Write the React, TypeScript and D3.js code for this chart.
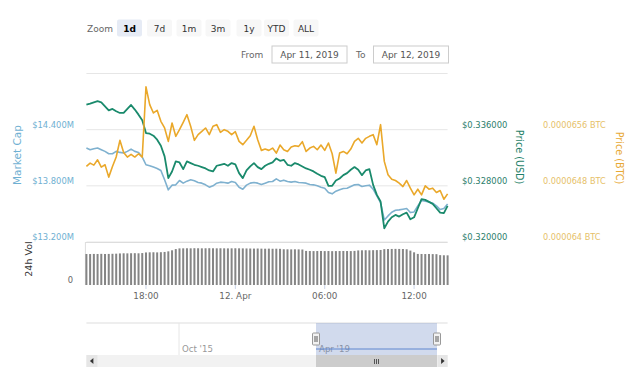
import React from 'react';
import * as d3 from 'd3';

// ---------- data (15-minute samples, Apr 11 2019 14:00 -> Apr 12 2019 14:15) ----------
const startTime = new Date(2019, 3, 11, 14, 0);
const endTime = new Date(2019, 3, 12, 14, 15);
const stepMinutes = 15;

const marketCapM = [
  14.2036, 14.1857, 14.1964, 14.2036, 14.1857, 14.1679, 14.1429, 14.1429, 14.1679, 14.1571,
  14.15, 14.1679, 14.1929, 14.1679, 14.1571, 14.1071, 14.025, 14.0143, 14.0, 13.9857,
  13.9643, 13.8643, 13.7571, 13.8071, 13.8107, 13.8571, 13.8286, 13.85, 13.8643, 13.8536,
  13.8357, 13.8286, 13.8107, 13.7857, 13.8, 13.8286, 13.8393, 13.8357, 13.8286, 13.8464,
  13.8357, 13.7857, 13.7643, 13.8071, 13.8286, 13.8357, 13.8286, 13.8143, 13.8286, 13.8429,
  13.8464, 13.875, 13.85, 13.8607, 13.8464, 13.8393, 13.8464, 13.8357, 13.8321, 13.8286,
  13.8143, 13.8107, 13.8, 13.7857, 13.775, 13.7286, 13.7143, 13.7429, 13.7571, 13.7714,
  13.775, 13.7929, 13.8107, 13.8143, 13.7929, 13.8, 13.8071, 13.7643, 13.6929, 13.6214,
  13.4357, 13.4786, 13.5179, 13.5393, 13.5429, 13.55, 13.5571, 13.5143, 13.5214, 13.5857,
  13.6429, 13.6357, 13.6286, 13.6143, 13.5857, 13.5464, 13.5571, 13.6071,
];

const priceUsd = [
  0.33957, 0.33971, 0.3399, 0.34005, 0.3399, 0.33933, 0.33876, 0.33895, 0.33862, 0.33838,
  0.33838, 0.33895, 0.33952, 0.33886, 0.33814, 0.33733, 0.33552, 0.33543, 0.33514, 0.33457,
  0.33371, 0.33219, 0.3291, 0.33005, 0.33148, 0.33133, 0.33038, 0.33148, 0.33124, 0.331,
  0.33086, 0.33067, 0.33048, 0.33019, 0.33005, 0.33086, 0.331, 0.33114, 0.33086, 0.33124,
  0.33105, 0.32981, 0.3291, 0.33019, 0.33076, 0.33124, 0.33067, 0.33038, 0.33086, 0.33114,
  0.33133, 0.3319, 0.33157, 0.33171, 0.331, 0.33086, 0.33124, 0.33105, 0.33076, 0.33048,
  0.33029, 0.33005, 0.32971, 0.32943, 0.32924, 0.328, 0.328, 0.32876, 0.32905, 0.32952,
  0.32981, 0.33029, 0.33067, 0.33029, 0.32952, 0.33019, 0.33038, 0.32814, 0.32671, 0.32576,
  0.32195, 0.3229, 0.32352, 0.32386, 0.32362, 0.32395, 0.32419, 0.32324, 0.32352, 0.32481,
  0.3261, 0.326, 0.32571, 0.32543, 0.32481, 0.32419, 0.3241, 0.32514,
];

const priceBtc = [
  650.76e-7, 651.24e-7, 650.95e-7, 651.71e-7, 650.67e-7, 651.0e-7, 649.24e-7, 650.76e-7, 652.1e-7, 654.48e-7,
  652.76e-7, 652.1e-7, 652.48e-7, 652.1e-7, 652.57e-7, 652.1e-7, 662.1e-7, 659.57e-7, 658.38e-7, 658.76e-7,
  657.19e-7, 656.24e-7, 654.33e-7, 656.95e-7, 655.05e-7, 656.0e-7, 657.05e-7, 658.14e-7, 656.48e-7, 654.48e-7,
  655.29e-7, 655.76e-7, 656.24e-7, 655.29e-7, 656.48e-7, 656.71e-7, 655.62e-7, 656.0e-7, 655.76e-7, 655.29e-7,
  655.71e-7, 654.33e-7, 653.86e-7, 654.48e-7, 655.14e-7, 656.48e-7, 654.57e-7, 653.05e-7, 653.24e-7, 653.05e-7,
  653.38e-7, 652.67e-7, 653.81e-7, 653.14e-7, 652.9e-7, 653.52e-7, 653.71e-7, 653.62e-7, 654.29e-7, 652.9e-7,
  653.38e-7, 653.62e-7, 653.14e-7, 653.81e-7, 653.05e-7, 654.1e-7, 652.57e-7, 649.81e-7, 652.67e-7, 652.9e-7,
  652.57e-7, 653.24e-7, 654.33e-7, 654.76e-7, 654.1e-7, 654.76e-7, 655.05e-7, 655.29e-7, 653.86e-7, 656.71e-7,
  651.48e-7, 649.57e-7, 648.95e-7, 648.76e-7, 648.38e-7, 647.9e-7, 648.76e-7, 647.67e-7, 646.71e-7, 647.52e-7,
  646.71e-7, 648.0e-7, 647.52e-7, 647.67e-7, 647.05e-7, 647.33e-7, 646.1e-7, 646.86e-7,
];

const volume24hM = [
  505, 504, 506, 505, 507, 505, 506, 508, 510,
  514, 516, 515, 517, 518, 516, 520,
  530, 532, 533, 531, 534, 538,
  548, 565, 585,
  596, 597, 598, 597, 599, 598, 597, 598, 599, 598, 597, 598, 597, 596, 597, 598, 597, 596, 595,
  594, 593, 594, 592, 591, 592, 590, 591, 589,
  582, 581, 580, 581, 580, 578,
  555, 553, 552, 553, 554, 552, 553, 551, 552, 553, 554, 553, 552, 555,
  563, 565, 566, 565, 567, 568, 570,
  584, 586, 587, 588, 587, 586, 582,
  560, 532,
  506, 505, 504, 505, 503, 502,
  486, 484, 483,
];

const marketCapTicks = [13.2, 13.8, 14.4];
const usdTicks = [0.32, 0.328, 0.336];
const btcTicks = [0.000064, 0.0000648, 0.0000656];
const marketCapLabels = ['$13.200M', '$13.800M', '$14.400M'];
const usdLabels = ['$0.320000', '$0.328000', '$0.336000'];
const btcLabels = ['0.000064 BTC', '0.0000648 BTC', '0.0000656 BTC'];

const xTickTimes = [
  new Date(2019, 3, 11, 18, 0),
  new Date(2019, 3, 12, 0, 0),
  new Date(2019, 3, 12, 6, 0),
  new Date(2019, 3, 12, 12, 0),
];
const xTickLabels = ['18:00', '12. Apr', '06:00', '12:00'];

const zoomButtons = ['1d', '7d', '1m', '3m', '1y', 'YTD', 'ALL'];
const fromDate = 'Apr 11, 2019';
const toDate = 'Apr 12, 2019';

const navTickTimes = [new Date(2015, 9, 1), new Date(2019, 3, 1)];
const navTickLabels = ["Oct '15", "Apr '19"];

// ---------- colours ----------
const C_MCAP = '#7fb1cf';
const C_USD = '#1a8a6c';
const C_BTC = '#eaa82a';
const FONT = 'DejaVu Sans, sans-serif';

export default function App() {
  const W = 640;
  const H = 380;
  const left = 86.4;
  const right = 447.6;
  const priceTop = 73.5;
  const priceBottom = 242;
  const volTop = 242;
  const volBottom = 285;

  const times = marketCapM.map((_, i) => new Date(startTime.getTime() + i * stepMinutes * 60000));

  const x = d3.scaleTime().domain([startTime, endTime]).range([left, right]);
  const yMcap = d3.scaleLinear().domain([13.2, 15.0]).range([priceBottom, priceTop]);
  const yUsd = d3.scaleLinear().domain([0.32, 0.344]).range([priceBottom, priceTop]);
  const yBtc = d3.scaleLinear().domain([0.000064, 0.0000664]).range([priceBottom, priceTop]);
  const yVol = d3.scaleLinear().domain([0, 700]).range([volBottom, volTop]);

  const mkLine = (scale: d3.ScaleLinear<number, number>) =>
    d3
      .line<number>()
      .x((_, i) => x(times[i]))
      .y((d) => scale(d))
      .curve(d3.curveLinear);

  const barW = 2;

  // navigator
  const navX = d3
    .scaleTime()
    .domain([navTickTimes[0], navTickTimes[1]])
    .range([179, 316]);
  const navTop = 323;
  const navBottom = 355;
  const maskL = 316;
  const maskR = 437;

  const btnCenters = [129.5, 159.5, 189, 218, 249, 276.5, 306];

  return (
    <svg
      width={W}
      height={H}
      style={{ position: 'absolute', left: 0, top: 0, background: '#fff' }}
      fontFamily={FONT}
    >
      <rect x={0} y={0} width={W} height={H} fill="#fff" />

      {/* range selector */}
      <text x={87} y={31.5} fontSize={9} fill="#666">Zoom</text>
      {zoomButtons.map((b, i) => (
        <g key={b}>
          <rect
            x={btnCenters[i] - 12.5}
            y={19.5}
            width={25}
            height={17}
            rx={2}
            fill={i === 0 ? '#e6ebf5' : '#f7f7f7'}
          />
          <text
            x={btnCenters[i]}
            y={31.5}
            fontSize={9}
            textAnchor="middle"
            fill={i === 0 ? '#000' : '#333'}
            fontWeight={i === 0 ? 'bold' : 'normal'}
          >
            {b}
          </text>
        </g>
      ))}
      <text x={241} y={57.5} fontSize={9} fill="#666">From</text>
      <rect x={272} y={46} width={75} height={17} fill="#fff" stroke="#cccccc" />
      <text x={309.5} y={58} fontSize={9} fill="#555" textAnchor="middle">{fromDate}</text>
      <text x={356} y={57.5} fontSize={9} fill="#666">To</text>
      <rect x={373.5} y={46} width={75} height={17} fill="#fff" stroke="#cccccc" />
      <text x={411} y={58} fontSize={9} fill="#555" textAnchor="middle">{toDate}</text>

      {/* grid */}
      <line x1={left} x2={right} y1={priceTop} y2={priceTop} stroke="#e6e6e6" />
      {marketCapTicks.map((t) => (
        <line key={t} x1={left} x2={right} y1={yMcap(t)} y2={yMcap(t)} stroke="#e6e6e6" />
      ))}

      {/* left axis */}
      {marketCapTicks.map((t, i) => (
        <text key={t} x={74} y={yMcap(t) - 2} fontSize={8.4} fill="#6fb0d2" textAnchor="end">
          {marketCapLabels[i]}
        </text>
      ))}
      <text
        transform={`translate(21,155) rotate(-90)`}
        fontSize={10.5}
        fill="#6fb0d2"
        textAnchor="middle"
      >
        Market Cap
      </text>

      {/* right axes */}
      {usdTicks.map((t, i) => (
        <text key={t} x={462} y={yUsd(t) - 2} fontSize={8.4} fill="#2b7e6c">
          {usdLabels[i]}
        </text>
      ))}
      <text
        transform={`translate(516,157) rotate(90)`}
        fontSize={9.6}
        fill="#1f7f69"
        textAnchor="middle"
      >
        Price (USD)
      </text>
      {btcTicks.map((t, i) => (
        <text key={t} x={543} y={yBtc(t) - 2} fontSize={8.2} fill="#e6bf6a">
          {btcLabels[i]}
        </text>
      ))}
      <text
        transform={`translate(616,158) rotate(90)`}
        fontSize={9.6}
        fill="#e8a935"
        textAnchor="middle"
      >
        Price (BTC)
      </text>

      {/* price lines */}
      <path d={mkLine(yMcap)(marketCapM) || ''} fill="none" stroke={C_MCAP} strokeWidth={1.6} strokeLinejoin="round" />
      <path d={mkLine(yUsd)(priceUsd) || ''} fill="none" stroke={C_USD} strokeWidth={1.8} strokeLinejoin="round" />
      <path d={mkLine(yBtc)(priceBtc) || ''} fill="none" stroke={C_BTC} strokeWidth={1.6} strokeLinejoin="round" />

      {/* volume pane */}
      <line x1={left - 1} x2={right} y1={volTop + 0.5} y2={volTop + 0.5} stroke="#dddddd" />
      <line x1={left - 1} x2={left - 1} y1={volTop} y2={volBottom} stroke="#dddddd" />
      {volume24hM.map((v, i) => (
        <rect
          key={i}
          x={x(times[i]) - barW / 2}
          y={yVol(v)}
          width={barW}
          height={volBottom - yVol(v)}
          fill="#858585"
        />
      ))}
      <text x={73} y={283} fontSize={8.4} fill="#666" textAnchor="end">0</text>
      <text
        transform={`translate(32,259) rotate(-90)`}
        fontSize={9.5}
        fill="#333"
        textAnchor="middle"
      >
        24h Vol
      </text>

      {/* x axis */}
      {xTickTimes.map((t, i) => (
        <g key={i}>
          <line x1={x(t)} x2={x(t)} y1={volBottom} y2={volBottom + 4} stroke="#ccd6eb" />
          <text x={x(t)} y={299} fontSize={8.8} fill="#666" textAnchor="middle">
            {xTickLabels[i]}
          </text>
        </g>
      ))}

      {/* navigator */}
      <line x1={left} x2={right} y1={navTop} y2={navTop} stroke="#dddddd" />
      <line x1={navX(navTickTimes[0])} x2={navX(navTickTimes[0])} y1={navTop} y2={navBottom} stroke="#e6e6e6" />
      {navTickTimes.map((t, i) => (
        <text key={i} x={navX(t) + 3} y={352} fontSize={8.6} fill="#999">
          {navTickLabels[i]}
        </text>
      ))}
      <rect x={maskL} y={navTop} width={maskR - maskL} height={navBottom - navTop} fill="rgba(102,133,194,0.3)" />
      <line x1={maskL} x2={maskR} y1={349} y2={349} stroke="#5f86cf" strokeWidth={1} />
      {[maskL, maskR].map((hx, i) => (
        <g key={i}>
          <rect x={hx - 3.5} y={333} width={7} height={12} rx={1} fill="#f2f2f2" stroke="#999" />
          <line x1={hx - 1} x2={hx - 1} y1={336} y2={342} stroke="#333" strokeWidth={0.8} />
          <line x1={hx + 1} x2={hx + 1} y1={336} y2={342} stroke="#333" strokeWidth={0.8} />
        </g>
      ))}

      {/* scrollbar */}
      <rect x={left} y={355} width={right - left} height={12} fill="#f2f2f2" />
      <rect x={maskL} y={355} width={maskR - maskL} height={12} fill="#cccccc" />
      {[-2, 0, 2].map((d) => (
        <line key={d} x1={376.5 + d} x2={376.5 + d} y1={359} y2={364} stroke="#333" strokeWidth={0.8} />
      ))}
      <rect x={left} y={355} width={11} height={12} fill="#e6e6e6" />
      <path d={`M${left + 7},${358} L${left + 3.5},${361} L${left + 7},${364} Z`} fill="#333" />
      <rect x={right - 10} y={355} width={10} height={12} fill="#e6e6e6" />
      <path d={`M${right - 6.5},${358} L${right - 3},${361} L${right - 6.5},${364} Z`} fill="#333" />
    </svg>
  );
}
